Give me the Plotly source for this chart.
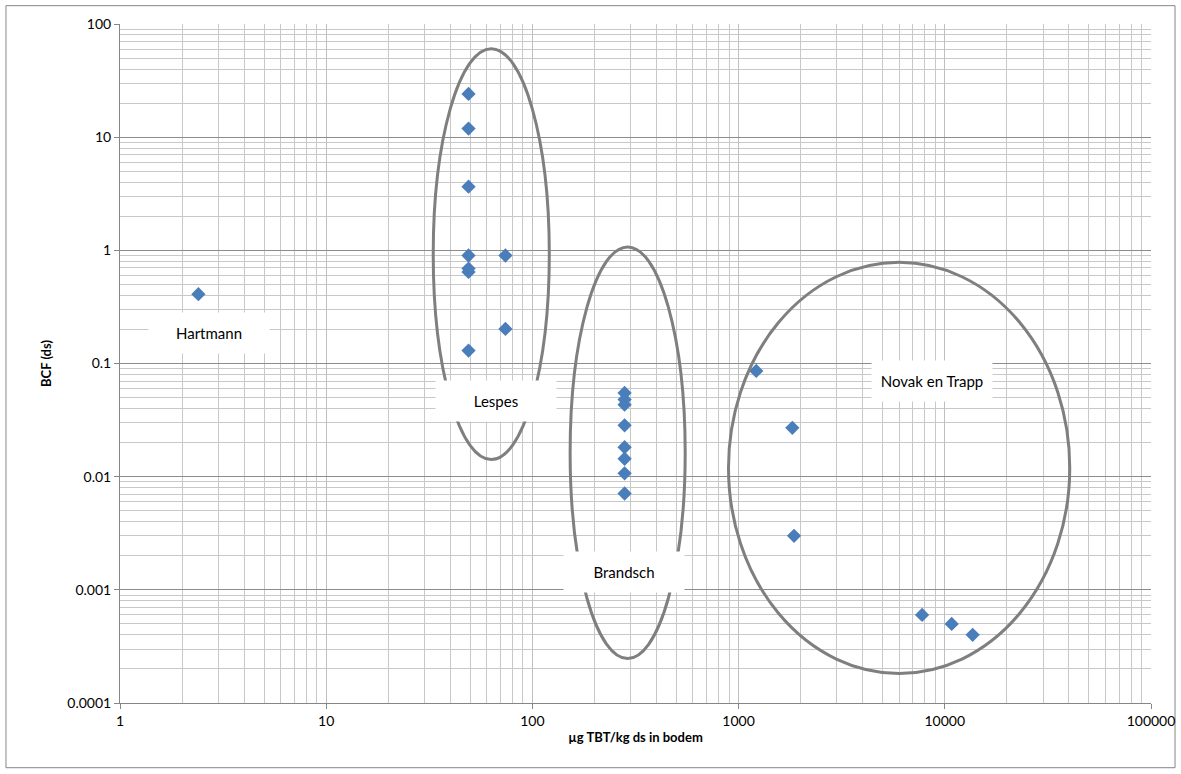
import plotly.graph_objects as go

# ---- data ----
hartmann_x = [2.4]
hartmann_y = [0.41]
lespes_x = [49, 49, 49, 49, 49, 49, 49, 74, 74]
lespes_y = [24.1, 11.9, 3.65, 0.90, 0.69, 0.645, 0.130, 0.90, 0.202]
brandsch_x = [280, 280, 280, 280, 280, 280, 280, 280]
brandsch_y = [0.055, 0.048, 0.0433, 0.0284, 0.0182, 0.0144, 0.0107, 0.0071]
novak_x = [1218, 1822, 1857, 7760, 10800, 13650]
novak_y = [0.086, 0.027, 0.0030, 0.0006, 0.0005, 0.0004]

x_ticks = [1, 10, 100, 1000, 10000, 100000]
x_ticklabels = ["1", "10", "100", "1000", "10000", "100000"]
y_ticks = [0.0001, 0.001, 0.01, 0.1, 1, 10, 100]
y_ticklabels = ["0.0001", "0.001", "0.01", "0.1", "1", "10", "100"]

group_names = ["Hartmann", "Lespes", "Brandsch", "Novak en Trapp"]
# label positions (log10 units) and group ellipse bounds (log10 units)
label_pos = [(0.432, -0.727), (1.824, -1.334), (2.445, -2.838), (3.940, -1.157)]
ellipses = [None,
            (1.519, 2.082, -1.849, 1.782),
            (2.183, 2.741, -3.607, 0.030),
            (2.951, 4.606, -3.739, -0.106)]

all_x = hartmann_x + lespes_x + brandsch_x + novak_x
all_y = hartmann_y + lespes_y + brandsch_y + novak_y

x_minor = [m * t for t in x_ticks[:-1] for m in range(2, 10)]
y_minor = [m * t for t in y_ticks[:-1] for m in range(2, 10)]

FONT = "Lato, Carlito, Calibri, sans-serif"

fig = go.Figure()
fig.add_trace(go.Scatter(
    x=all_x, y=all_y, mode="markers",
    marker=dict(symbol="diamond", size=11, color="#4a7ebb",
                line=dict(width=0)),
    showlegend=False, hoverinfo="x+y"))

shapes = []
for e in ellipses:
    if e is None:
        continue
    x0, x1, y0, y1 = e
    shapes.append(dict(type="circle", xref="x", yref="y",
                       x0=10 ** x0, x1=10 ** x1, y0=10 ** y0, y1=10 ** y1,
                       line=dict(color="#7f7f7f", width=3), layer="above"))

# outer chart border
shapes.append(dict(type="rect", xref="paper", yref="paper",
                   x0=-0.1106, x1=1.0233, y0=-0.0953, y1=1.027,
                   line=dict(color="#868686", width=1), layer="below"))

annotations = []
for name, (lx, ly) in zip(group_names, label_pos):
    annotations.append(dict(x=lx, y=ly, xref="x", yref="y", text=name,
                            showarrow=False, bgcolor="white",
                            width=116, height=36, borderpad=2,
                            font=dict(family=FONT, size=15, color="#000000")))

fig.update_layout(
    width=1181, height=774,
    margin=dict(l=120, r=30, t=24, b=71, autoexpand=False),
    paper_bgcolor="white", plot_bgcolor="white",
    font=dict(family=FONT, size=13, color="#000000"),
    shapes=shapes, annotations=annotations,
    xaxis=dict(type="log", range=[0, 5], automargin=False,
               tickvals=x_ticks, ticktext=x_ticklabels,
               showgrid=True, gridcolor="#bfbfbf", gridwidth=1,
               minor=dict(tickvals=x_minor, showgrid=True, gridcolor="#c8c8c8",
                          gridwidth=1, ticks=""),
               showline=True, linecolor="#868686", linewidth=1,
               ticks="outside", ticklen=5, tickcolor="#868686",
               zeroline=False, mirror=False,
               title=dict(text="<b>µg TBT/kg ds in bodem</b>",
                          font=dict(family=FONT, size=13), standoff=5),
               tickfont=dict(family=FONT, size=14)),
    yaxis=dict(type="log", range=[-4, 2], automargin=False,
               tickvals=y_ticks, ticktext=y_ticklabels,
               showgrid=True, gridcolor="#8c8c8c", gridwidth=1,
               minor=dict(tickvals=y_minor, showgrid=True, gridcolor="#c8c8c8",
                          gridwidth=1, ticks=""),
               showline=True, linecolor="#868686", linewidth=1,
               ticks="outside", ticklen=5, tickcolor="#868686",
               zeroline=False,
               title=dict(text="<b>BCF (ds)</b>",
                          font=dict(family=FONT, size=13), standoff=12),
               tickfont=dict(family=FONT, size=14)),
)

fig.write_html("out.html",
               config={"displayModeBar": False},
               post_script="document.body.style.margin='0';"
                           "document.body.style.overflow='hidden';")
